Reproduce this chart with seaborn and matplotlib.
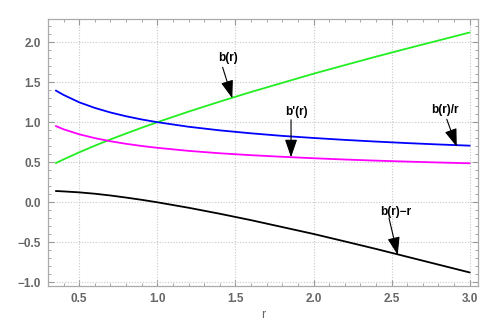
import matplotlib
matplotlib.use("Agg")
import matplotlib.pyplot as plt
import seaborn as sns
import pandas as pd
from matplotlib.ticker import MultipleLocator

r = [0.35, 0.4, 0.5, 0.6, 0.7, 0.8, 0.9, 1.0, 1.2, 1.4, 1.6, 1.8, 2.0, 2.2, 2.4, 2.6, 2.8, 3.0]
b = [0.490, 0.536, 0.624, 0.707, 0.785, 0.859, 0.931, 1.0, 1.132, 1.257, 1.377, 1.491, 1.605,
     1.712, 1.818, 1.920, 2.020, 2.120]
b_over_r = [1.395, 1.340, 1.248, 1.178, 1.121, 1.074, 1.034, 1.0, 0.943, 0.898, 0.861, 0.829,
            0.803, 0.779, 0.758, 0.739, 0.722, 0.707]
b_prime = [0.952, 0.911, 0.849, 0.801, 0.762, 0.730, 0.703, 0.680, 0.642, 0.612, 0.588, 0.568,
           0.550, 0.534, 0.520, 0.508, 0.497, 0.487]
b_minus_r = [0.141, 0.136, 0.124, 0.107, 0.085, 0.059, 0.031, 0.0, -0.068, -0.143, -0.223,
             -0.309, -0.395, -0.488, -0.582, -0.680, -0.778, -0.876]

labels = ["b(r)", "b'(r)", "b(r)/r", "b(r)\u2212r"]
# (text position, arrow start, arrow tip) in data coords
label_text = [(1.452, 1.807), (1.894, 1.127), (2.842, 1.152), (2.528, -0.121)]
label_start = [(1.418, 1.685), (1.856, 1.030), (2.853, 1.036), (2.483, -0.196)]
label_tip = [(1.480, 1.298), (1.856, 0.562), (2.917, 0.694), (2.539, -0.658)]

sns.set_style("ticks")
plt.rcParams['font.family'] = ['Liberation Sans', 'DejaVu Sans']

fig = plt.figure(figsize=(4.98, 3.23), dpi=100)
ax = fig.add_axes([48 / 498, 1 - 285.7 / 323, (478 - 48) / 498, (285.7 - 19) / 323])

df = pd.DataFrame({"r": r, "b": b, "b_over_r": b_over_r, "b_prime": b_prime, "b_minus_r": b_minus_r})
series = [("b", "#22ee22"), ("b_over_r", "#0000ff"), ("b_prime", "#ff00ff"), ("b_minus_r", "#000000")]
for col, c in series:
    sns.lineplot(data=df, x="r", y=col, ax=ax, color=c, linewidth=1.3)

ax.set_xlim(0.3, 3.053)
ax.set_ylim(-1.041, 2.288)
ax.xaxis.set_major_locator(MultipleLocator(0.5))
ax.xaxis.set_minor_locator(MultipleLocator(0.1))
ax.yaxis.set_major_locator(MultipleLocator(0.5))
ax.yaxis.set_minor_locator(MultipleLocator(0.1))
ax.grid(True, which="major", linestyle=(0, (1, 1.5)), color="#c8c8c8", linewidth=0.8)
ax.tick_params(which="both", direction="in", top=True, right=True, colors="#999999")
ax.tick_params(which="major", length=4, width=0.8, labelsize=8.5, labelcolor="#666666", pad=5)
ax.tick_params(which="minor", length=2, width=0.6)
for lab in ax.get_xticklabels() + ax.get_yticklabels():
    lab.set_fontweight("bold")
for s in ax.spines.values():
    s.set_color("#aaaaaa")
    s.set_linewidth(0.9)
ax.set_xlabel("r", color="#666666", fontsize=9, labelpad=3)
ax.set_ylabel("")

for lab, tp, st, tip in zip(labels, label_text, label_start, label_tip):
    ax.text(tp[0], tp[1], lab, ha="center", va="center", fontsize=8.5, fontweight="bold", color="black")
    ax.annotate("", xy=tip, xytext=st,
                arrowprops=dict(arrowstyle="-|>,head_length=1.1,head_width=0.38",
                                color="black", lw=0.8, shrinkA=0, shrinkB=0))

fig.savefig("out.png", dpi=100)
